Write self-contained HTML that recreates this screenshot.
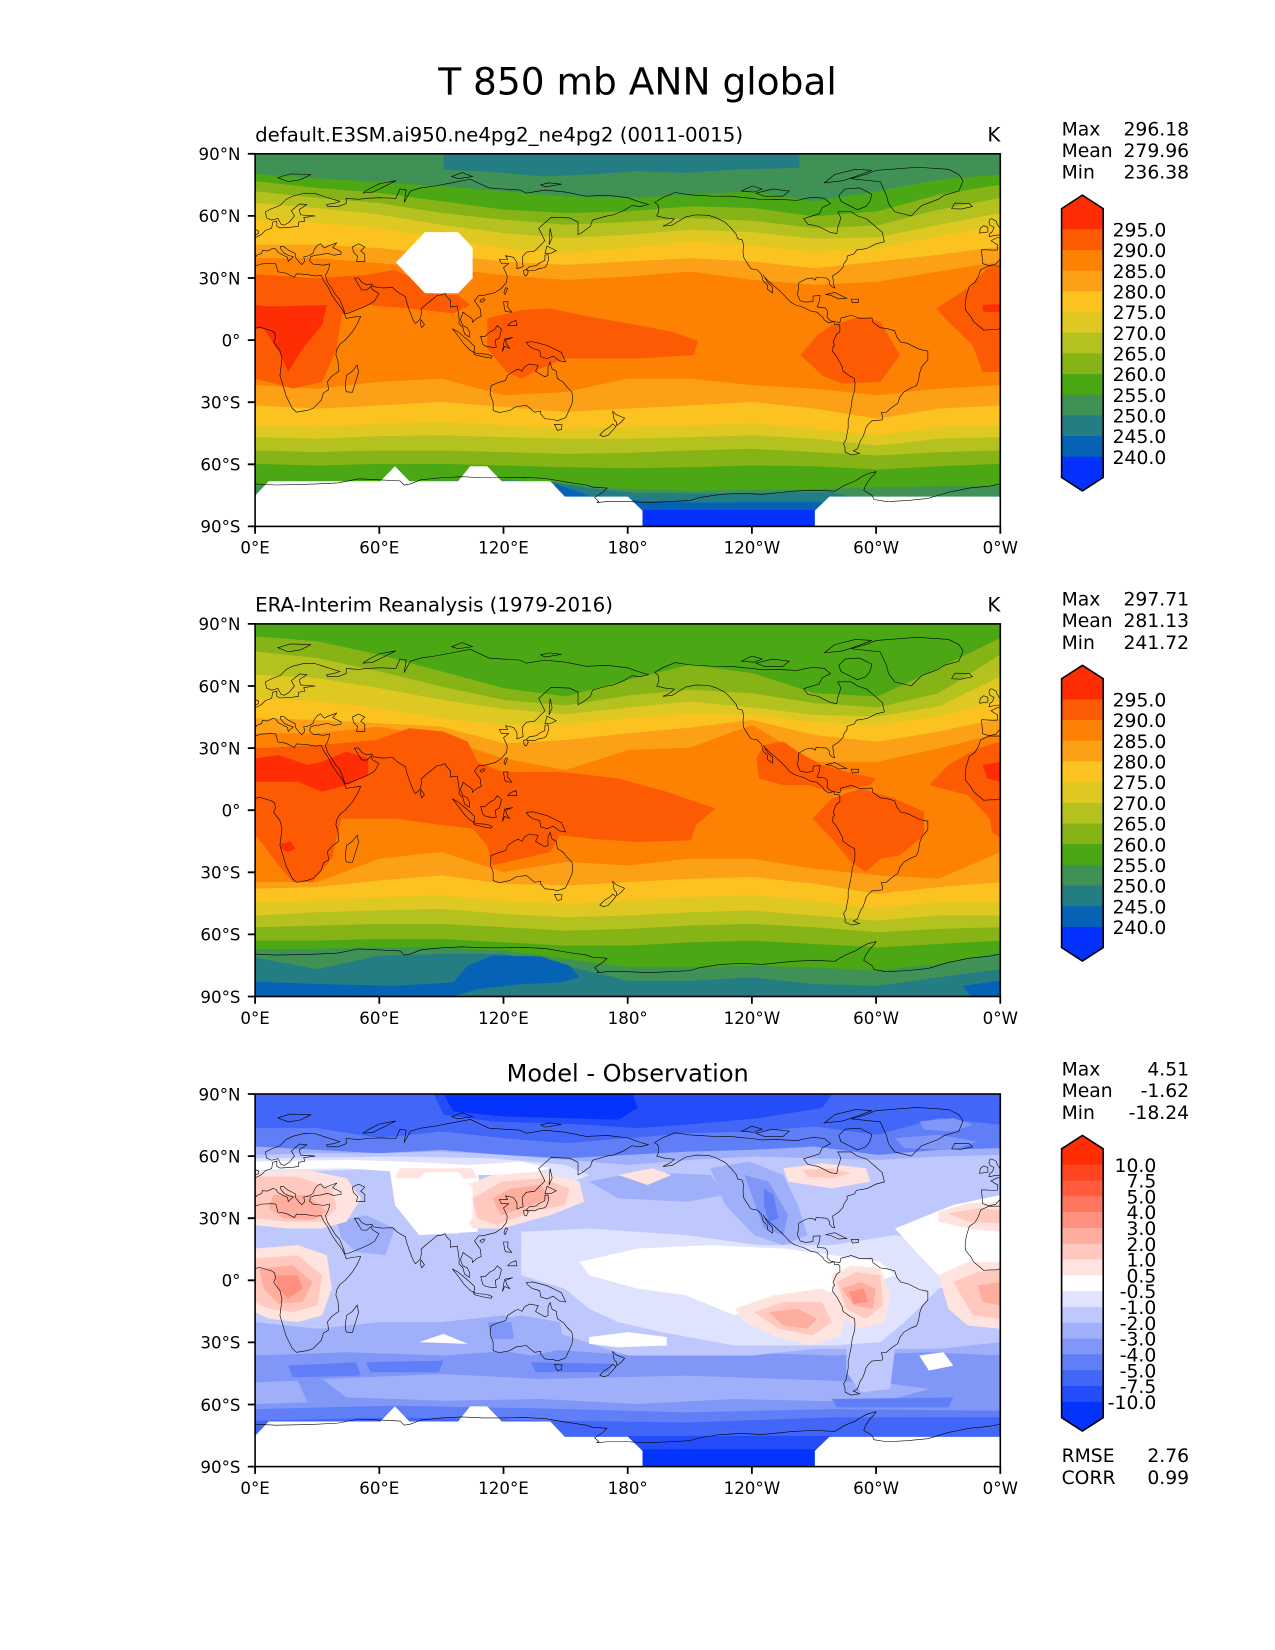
<!DOCTYPE html>
<html><head><meta charset="utf-8"><style>
html,body{margin:0;padding:0;background:#fff;}
svg{display:block;}
text{font-family:"DejaVu Sans","Liberation Sans",sans-serif;fill:#000;}
</style></head><body>
<svg width="1275" height="1650" viewBox="0 0 1275 1650" xmlns="http://www.w3.org/2000/svg">
<defs>
<path id="coast" fill="none" stroke="#000" stroke-width="0.6" vector-effect="non-scaling-stroke" d="
M0,5.6 L2,6.3 L8,4.5 L9.5,3.5 L9.8,1 L9,-1 L12,-5 L13,-9 L12,-17 L15,-27 L18,-33 L20,-34.8 L25,-34 L28,-33 L32,-29 L33,-25.5 L35.5,-24 L35,-20 L37,-17.5 L40.5,-15 L40,-10 L39,-7 L39.5,-4.5 L41,-2 L43.5,0 L47,4 L49.5,8 L51,11.5 L48,11.2 L44,10.5 L43.3,12.5 L42,15 L39,19 L37,22 L35,26 L33.5,28 L32.5,30 L32,31.2 L29,31 L25,31.7 L20,32 L19,30.3 L15,32.3 L11,33 L10,36.8 L8,37 L3,36.8 L0,35.8
M360,35.8 L354.5,35.8 L350.5,34 L349.5,31 L347.8,28 L345,26 L343.5,21 L343,16.5 L343.2,14.5 L346,11 L347,9 L350,6.5 L352,4.8 L355,5 L358,5 L360,5.6
M0,49.5 L1.5,50.2 L3,51 L5,53 L8,54 L8.5,57 L10.5,57.5 L10.5,55 L12,54.2 L18,54.6 L21,55 L21,57 L24,57.5 L23.5,59.2 L29,60 L22,60.5 L21.3,63 L25,65.5 L21.5,65.8 L17.5,62.5 L19,60 L16.5,57 L14,55.5 L12.5,56 L11,58.8 L8,58 L5.5,59 L5,62 L8,63.5 L12,65 L15,68 L18,69.5 L24,71 L29,70.8 L33,69.5 L41,67 L38,66 L34.5,65.5 L35,64.5 L40,64.5 L44,66 L44,68.5 L50,68 L54,68.5 L60,68.8 L68,68.5 L70,73 L73,72.5 L72,66.5 L75,72 L80,73.5 L87,74.5 L95,76 L104,77.7 L113,73.5 L120,73 L128,72.5 L131,71 L140,72.5 L150,71.5 L160,69.5 L170,70 L180,68.8 L185,67 L190,65.5 L186,64.5 L182,65 L178,62.5 L173,60.5 L170,60 L163,58 L162,55 L158,52 L156,51 L156,57 L152,59 L143,59.3 L137,54 L140,48 L135,43 L131,42.5 L129,40 L129.5,35.5 L126.5,34.5 L126.5,37.5 L124.8,40 L121,40.8 L122,39 L118,39 L119,37 L122.5,37 L120,35 L121.8,31 L121.5,28 L119,25 L116,23 L110,21.5 L108,21.5 L106,19 L108.8,15 L109.2,11.5 L107,10.5 L105,8.6 L104.8,10.4 L102,12.3 L100.5,13.5 L99.2,10 L100.3,7 L102.5,6 L103.5,4 L103.5,1.4 L101.2,3 L100.4,6 L98.5,8 L98.6,10 L97.7,16.5 L94.3,16 L94.5,19 L92.5,21 L91.8,22.5 L90,21.8 L88,21.6 L86.9,20.7 L84.8,19 L82.3,17 L80.2,15 L80.3,13 L79.9,10.3 L77.5,8 L76.3,9.8 L74.5,14.5 L73,19 L72.7,21 L70,22.5 L68.5,23.5 L66.5,25.4 L61.5,25.2 L57.3,25.8 L56.4,27.1 L54,26.7 L51.5,27.9 L50,30 L48,30 L50.1,26.5 L51.5,24.3 L54,24.2 L56.3,26.2 L56.5,24.5 L59.8,22.5 L57.8,19 L55.2,17.3 L52.2,15.9 L45,13 L43.3,12.7 L42.8,15 L40.8,19.8 L38.8,22 L37,25 L35,28 L34.5,29.5 L34,31.3 L35,33 L35.9,35.7 L36,36.8 L33,36.2 L30.5,36.5 L28,36.7 L26.3,38.3 L26.8,40.2 L29,41 L31.5,41.2 L35,42 L38,41 L41.5,41.5 L41.5,42.7 L37.5,44.7 L39.5,47 L35,45.3 L33.5,44.5 L32.5,45.4 L31.7,46.6 L30.2,45.8 L28.7,44 L28,42 L26.2,40.8 L23.5,40.2 L24,38 L22.5,36.5 L21.2,37.8 L19.5,40 L19.4,41.8 L16,43.5 L13.7,45.3 L12.3,45.3 L12.4,44 L14,42 L16,41 L18.5,40.2 L17,39 L16,38 L15.7,40 L14,40.8 L11,42.4 L10,44 L8.5,44.3 L6,43.1 L3.5,43.3 L3.2,41.9 L0.8,41 L0,39.5
M360,39.5 L359.5,38.6 L358.5,37.6 L357.8,36.7 L354.5,36 L351.5,37 L351,42.5 L351,43.7 L356,43.5 L358.5,43.5 L358.8,46 L355.5,48 L358.5,49.5 L360,49.5
M47,45 L50,46.5 L53,45 L51,43 L53,41.5 L53,38 L49,38 L49.5,40.5 L47.5,42.5 Z
M354.5,50 L358,50.7 L360,50.8 M0,50.8 L1.6,51.5 L1.7,52.7 L0,53.5 M360,53.5 L359.5,54.5 L358.5,56 L358,57.5 L356,58.6 L355,58.5 L354.5,57 L355,55.5 L357,54.5 L356.5,53.3 L355.8,52 L355,51.7 L354.5,50
M350,51.7 L354,52.2 L354,54.5 L352,55.3 L350.3,54 Z
M336.5,63.5 L338,66.2 L345,66 L346.5,64.5 L341,63.3 Z
M11,78.5 L17,80.3 L27,80 L22,77.5 L16,76.5 Z
M52,71 L55,73 L60,75.5 L68,77 L62,74 L57,71.5 Z
M95,79 L100,81 L105,79 L98,78 Z
M138,75 L142,76 L148,75.3 L140,74 Z
M130.8,34 L132.5,35.5 L136,36 L137,37 L140,38.5 L140,41 L141.5,41.3 L141.8,39 L140.8,36 L139.8,35 L137,34.5 L135,33.5 L132,33.8 Z
M129.7,33.7 L131,34 L132,33 L131,31 L130,31.5 Z
M140,41.8 L141,45.4 L144,44 L145.5,43.2 L143,42 Z
M142,46 L142.5,54 L143.5,49.5 Z
M120.2,23 L121,25.3 L122,25 L120.8,22 Z
M108.7,19.2 L110.5,20.1 L111,19.6 L110,18.4 L108.7,18.5 Z
M120,18.5 L122.2,18.5 L122,16 L124,13.5 L121,13.8 L120.5,15 Z
M122,7 L126.5,7 L126,9.5 L123.5,8.5 Z
M109,1.8 L110,-2 L111.5,-3 L114.5,-3.5 L116.5,-3.5 L116,0 L118,1 L119,5.2 L117,7 L115.5,5 L113.5,4 L111,1.7 Z
M95.3,5.5 L98,4 L104,-1 L106,-3 L105.8,-5.8 L104,-5 L101,-2 L98.5,1.5 Z
M105.5,-6 L108,-6.5 L112,-6.8 L114.5,-7.8 L114,-8.7 L110,-8 L106,-7 Z
M119.5,-5.5 L120.5,0.5 L124.5,1.3 L121,0 L121.5,-2 L123,-4 L120.5,-3 Z
M131,-1 L134,-0.8 L137,-1.5 L141,-2.6 L145,-4.5 L148,-6 L150,-10.5 L147,-10 L144,-7.7 L141,-9 L138,-8 L137.5,-5 L134,-4 L132,-2.5 Z
M79.8,8 L80.2,9.8 L81.8,7.5 L80.5,6 Z
M44,-25 L47,-25.2 L50,-15.5 L49.3,-12 L47,-15 L44.2,-17 L43.5,-22 Z
M114,-22 L113.5,-26 L115,-30 L115,-34 L118,-35 L123,-34 L126,-32.2 L131,-31.5 L135,-34.8 L138,-34.3 L138,-35.7 L140,-38 L144,-38.3 L146,-39 L150,-37.5 L153,-31 L153.5,-28 L153,-25 L150.5,-22.5 L149,-20.5 L146,-18.5 L145.5,-15 L143.5,-14 L142.5,-10.7 L141.5,-13 L141.5,-17 L140,-17.7 L137,-16 L135.5,-15 L136.8,-12.2 L132.5,-11.5 L130,-13 L129,-15 L127,-14 L125,-15 L122,-17 L121,-19.5 L117,-20.7 Z
M144.6,-40.7 L148.3,-40.9 L148,-43.2 L146,-43.6 Z
M172.7,-34.4 L174.5,-36 L178.5,-37.7 L177,-39.5 L174.7,-41.3 L174.5,-39.5 L173.5,-38.5 Z
M172.7,-40.5 L174.3,-41.7 L172.8,-43.5 L170.5,-46 L168.3,-46.6 L166.5,-45.8 L168.5,-43.8 L171.5,-41.8 Z
M193,66.5 L197,68.9 L203,71.3 L210,70.2 L220,69.6 L230,69.5 L235,68.9 L240,68.5 L245,67.8 L252,68 L262,67.5 L266,68.5 L270,69 L275,68.5 L278,66 L274,64 L272.5,61 L265,58.7 L267,56 L272,55 L278,52 L281,51.5 L281.5,54.5 L283,59 L281.5,62 L288,62 L291,60 L295.5,58.5 L299,55.5 L303,52 L304,47.5 L300,46.5 L296,44.5 L294,44 L290.5,43.5 L289.5,41.7 L286,40.6 L286,39 L284.5,37 L284,35.2 L282,33 L279,31 L279.5,27 L280,25.3 L278.8,25.7 L277.5,27 L277.3,28.8 L276,30 L271,30.3 L270.7,29 L269,30 L266,29.5 L262.5,27.5 L262.5,25 L262,22 L263.3,19 L266,18.3 L269.5,18.7 L269.6,21.3 L273,21.5 L272.5,18.5 L271.5,16 L275.5,15.5 L276.5,14 L276.3,11 L278,9.3 L280.5,8.8 L282.5,8.5 L283,10.7 L284.5,11 L288,12 L292,10.5 L298,10.7 L298.5,8.5 L302,6 L305.5,5.5 L309,4.5 L310,1.5 L312,-1 L315,-1.5 L318,-3 L321,-4.5 L325,-5.3 L325,-7.5 L325,-9.5 L322,-13 L321,-16 L320.5,-19.5 L319.5,-22 L317,-23 L313.5,-25 L311.5,-27.5 L310.5,-30.5 L307,-33 L305,-34.8 L302.5,-35 L303,-36.5 L303,-38.5 L298,-39 L296,-40.8 L295,-42.5 L294.5,-44.5 L293.5,-47 L292.5,-48.5 L291.5,-51 L291,-52.5 L289,-53.5 L292,-54.8 L288,-55.5 L285,-54 L285,-52 L284.3,-50 L285.5,-48 L286,-45 L286.5,-42.5 L286.5,-39 L287,-37 L288,-32 L288.5,-28 L289.7,-24 L289.8,-20.5 L289.5,-18.5 L287.5,-17.5 L284,-15 L283.7,-13 L281,-8 L279,-5.5 L279.2,-3 L280,-2.5 L279.3,-1 L280,1 L281,3 L282.5,4 L282.5,7 L281.7,7.7 L280,7.5 L279.5,9 L277.2,8.3 L275,9.7 L274.3,11 L272.5,12.5 L271.5,13.5 L268.5,14 L265,15.8 L261,17 L258.5,18.5 L254.5,22.8 L251.5,25.5 L248,28.5 L246,30.5 L245.5,31.5 L247.5,28 L250,25.5 L250,22.8 L247.5,24.5 L247.5,26.5 L245.5,28.5 L244.5,32 L242.5,34 L239.5,34.5 L237.5,37.5 L236,40 L235.7,43 L236,46 L235.3,48.4 L233,49 L232.5,51 L230,54 L227,57 L222.5,59.2 L219,60.3 L213,60.5 L208,59.5 L205,57.7 L201.5,55.5 L197,55 L201,57 L202.5,58.5 L198,59 L194,60 L195,62 L195,64 L194.5,65.5 Z
M317,60 L309,62 L306,66 L305,70 L302,76.5 L288,78 L295,80 L300,82 L320,83.5 L335,82.5 L340,80 L342,77 L340,72 L333,70 L330,68 L322,65 Z
M282,70 L285,73 L292,73.5 L298,70.5 L297,67 L295,64.5 L291,63 L287,65 L283,67 Z
M275,76 L280,80 L290,82.5 L298,82 L290,79 L284,77 Z
M242,71 L250,73 L258,72 L255,69.5 L246,69.5 Z
M235,72 L240,74.5 L245,73 L241,71.5 Z
M275.5,22 L280,23 L285.8,20.2 L282,19.9 L278,21.7 Z
M288,19.8 L291.5,19.8 L291.5,18.3 L288.5,18 Z
M0,-69.5 L10,-70 L20,-69.8 L30,-69.5 L40,-69 L50,-67 L60,-67.5 L70,-68 L72,-70 L75,-69.5 L80,-67.5 L90,-66.5 L100,-66 L110,-66.5 L120,-66.5 L130,-66.3 L140,-66.8 L150,-68.5 L160,-70 L163,-71 L170,-71.5 L168,-73.5 L164,-76 L166,-78 L165,-78.5 L170,-78 L180,-78 L190,-78.5 L200,-78 L210,-77.5 L215,-76 L225,-74.5 L235,-74 L245,-74.5 L255,-73.5 L260,-73 L270,-72.5 L280,-73 L285,-70 L290,-68 L293,-66 L296,-64.5 L300,-63.5 L299,-65 L297,-67 L295,-70 L294,-72.5 L298,-75 L299,-77 L305,-78 L315,-77.5 L325,-76.5 L330,-75 L335,-73.5 L340,-72.5 L345,-71.5 L350,-71 L355,-70.5 L360,-69.5"/>
<path id="mask" fill="#fff" d="M12,1040 L40,997 L270,997 L300,952 L330,997 L430,997 L455,952 L490,952 L520,997 L620,997 L650,1043 L780,1043 L810,1085 L810,1140 L0,1140 L0,1040 Z M1165,1140 L1165,1085 L1195,1043 L1560,1043 L1560,1140 Z M362,252 L430,252 L460,298 L460,390 L430,435 L362,435 L302,343 Z"/>
</defs>

<rect x="0" y="0" width="1275" height="1650" fill="#fff"/>
<text x="637.5" y="94.5" font-size="37.5" text-anchor="middle">T 850 mb ANN global</text>

<!-- ================= PANEL 1 ================= -->
<svg x="255.1" y="153.8" width="745.2" height="372.6" viewBox="12 18 1535 1114" preserveAspectRatio="none">
<rect x="0" y="0" width="1600" height="1200" fill="#3f9156"/>
<path fill="#237d83" d="M400,18 L1133,18 L1133,60 L1000,65 L900,75 L800,70 L700,80 L600,85 L500,72 L400,65 Z"/>
<path fill="#4ba713" d="M12,78 L140,92 L268,102 L396,115 L524,130 L652,145 L780,150 L908,140 L1036,130 L1164,160 L1294,130 L1420,95 L1547,80 L1547,1012 L1420,1012 L1294,1015 L1164,1020 L1036,1022 L908,1025 L780,1020 L652,1005 L524,990 L396,995 L268,1000 L140,1005 L12,1010 Z"/>
<path fill="#86b316" d="M12,100 L140,120 L268,135 L396,160 L524,185 L652,195 L780,190 L908,175 L1036,180 L1164,205 L1294,190 L1420,140 L1547,110 L1547,945 L1420,952 L1294,962 L1164,952 L1036,950 L908,955 L780,958 L652,955 L524,950 L396,945 L268,945 L140,950 L12,945 Z"/>
<path fill="#b4c11e" d="M12,130 L140,150 L268,165 L396,195 L524,215 L652,230 L780,222 L908,210 L1036,218 L1164,240 L1294,232 L1420,185 L1547,150 L1547,905 L1420,910 L1294,920 L1164,910 L1036,900 L908,905 L780,912 L652,915 L524,910 L396,905 L268,905 L140,910 L12,905 Z"/>
<path fill="#e0c823" d="M12,165 L140,180 L268,200 L396,230 L524,255 L652,270 L780,260 L908,245 L1036,252 L1164,272 L1294,268 L1420,230 L1547,195 L1547,865 L1420,870 L1294,890 L1164,870 L1036,860 L908,865 L780,870 L652,870 L524,865 L396,860 L268,862 L140,870 L12,865 Z"/>
<path fill="#fcc320" d="M12,215 L140,225 L268,240 L396,270 L524,300 L652,315 L780,300 L908,280 L1036,292 L1164,312 L1294,300 L1420,265 L1547,230 L1547,830 L1420,835 L1294,860 L1164,840 L1036,825 L908,830 L780,835 L652,840 L524,830 L396,820 L268,825 L140,835 L12,830 Z"/>
<path fill="#fca117" d="M12,290 L140,290 L268,300 L396,320 L524,340 L652,350 L780,340 L908,330 L1036,340 L1164,360 L1294,340 L1420,320 L1547,295 L1547,770 L1420,780 L1294,810 L1164,780 L1036,760 L908,770 L780,780 L652,790 L524,775 L396,760 L268,770 L140,780 L12,770 Z"/>
<path fill="#fd8204" d="M12,330 L140,330 L268,345 L396,360 L524,380 L652,395 L780,385 L908,370 L1036,395 L1164,410 L1294,400 L1420,370 L1547,340 L1547,710 L1420,720 L1294,740 L1164,720 L1036,710 L908,690 L780,690 L652,730 L524,740 L396,690 L268,700 L140,720 L12,710 Z"/>
<path fill="#fd5b03" d="M12,378 L140,390 L240,380 L300,365 L340,392 L380,437 L430,440 L455,470 L420,495 L330,480 L240,470 L190,500 L180,600 L150,700 L90,720 L40,700 L12,690 Z M490,510 L560,485 L620,480 L700,505 L800,530 L870,550 L925,578 L915,620 L800,630 L650,630 L600,660 L560,690 L530,670 L490,600 Z M1135,620 L1170,560 L1200,530 L1260,505 L1300,520 L1340,620 L1300,700 L1220,705 L1180,680 Z M1415,480 L1480,420 L1520,360 L1547,355 L1547,670 L1510,670 L1490,590 L1440,520 Z"/>
<path fill="#fe2d04" d="M12,470 L40,475 L160,470 L150,530 L110,600 L80,670 L65,620 L30,540 L12,540 Z M1510,470 L1547,468 L1547,492 L1512,490 Z"/>
<path fill="#237d83" d="M620,997 L700,1018 L800,1032 L1000,1034 L1100,1030 L1200,1030 L1240,1043 L1240,1140 L620,1140 Z"/>
<path fill="#0562b5" d="M630,1005 L700,1040 L800,1055 L900,1060 L1000,1060 L1100,1058 L1180,1060 L1180,1140 L630,1140 Z"/>
<path fill="#0531fe" d="M780,1083 L1200,1083 L1200,1140 L780,1140 Z"/>
<use href="#mask"/>
<g transform="matrix(4.2639,0,0,-6.1889,12,575)"><use href="#coast"/></g>
</svg>

<!-- ================= PANEL 2 ================= -->
<svg x="255.1" y="623.9" width="745.2" height="372.6" viewBox="12 18 1535 1114" preserveAspectRatio="none">
<rect x="0" y="0" width="1600" height="1200" fill="#4ba713"/>
<path fill="#86b316" d="M12,55 L140,70 L268,110 L396,160 L524,210 L652,235 L780,185 L908,140 L1036,165 L1164,225 L1294,235 L1420,150 L1547,60 L1547,965 L1420,975 L1294,985 L1164,975 L1036,965 L908,970 L780,980 L652,980 L524,970 L396,960 L268,960 L140,965 L12,965 Z"/>
<path fill="#b4c11e" d="M12,100 L140,120 L268,160 L396,205 L524,245 L652,262 L780,232 L908,215 L1036,225 L1164,255 L1294,268 L1420,225 L1547,110 L1547,925 L1420,930 L1294,940 L1164,925 L1036,915 L908,920 L780,930 L652,935 L524,925 L396,915 L268,915 L140,920 L12,925 Z"/>
<path fill="#e0c823" d="M12,170 L140,180 L268,210 L396,245 L524,272 L652,288 L780,268 L908,250 L1036,268 L1164,290 L1294,295 L1420,265 L1547,175 L1547,890 L1420,890 L1294,905 L1164,890 L1036,875 L908,880 L780,890 L652,895 L524,885 L396,870 L268,875 L140,880 L12,890 Z"/>
<path fill="#fcc320" d="M12,240 L140,250 L268,270 L396,300 L524,320 L652,318 L780,300 L908,288 L1036,290 L1164,312 L1294,320 L1420,295 L1547,245 L1547,850 L1420,850 L1294,870 L1164,845 L1036,830 L908,835 L780,845 L652,855 L524,845 L396,830 L268,835 L140,845 L12,850 Z"/>
<path fill="#fca117" d="M12,300 L140,305 L268,315 L396,325 L524,375 L652,365 L780,345 L908,328 L1036,305 L1164,350 L1294,370 L1420,340 L1547,300 L1547,790 L1420,805 L1294,825 L1164,795 L1036,775 L908,780 L780,790 L652,800 L524,795 L396,770 L268,785 L140,805 L12,810 Z"/>
<path fill="#fd8204" d="M12,345 L140,345 L268,325 L396,360 L524,420 L652,455 L780,395 L908,388 L1036,320 L1164,430 L1294,430 L1420,390 L1547,345 L1547,700 L1420,780 L1294,770 L1164,750 L1036,720 L908,720 L780,740 L652,730 L524,760 L396,700 L268,720 L140,790 L12,790 Z"/>
<path fill="#fd5b03" d="M12,390 L150,380 L260,365 L330,330 L400,340 L450,370 L470,430 L520,460 L640,460 L760,480 L860,520 L960,570 L920,620 L910,665 L800,670 L700,660 L640,650 L620,700 L560,720 L500,740 L490,680 L460,630 L400,620 L300,600 L190,600 L170,720 L130,790 L90,790 L60,740 L30,680 L12,650 Z M1045,420 L1060,380 L1100,370 L1130,400 L1180,440 L1230,460 L1290,480 L1280,500 L1200,520 L1150,500 L1100,500 L1050,480 Z M1160,600 L1200,540 L1260,510 L1330,540 L1390,580 L1390,650 L1340,710 L1300,720 L1270,760 L1240,730 L1200,660 Z M1400,500 L1440,440 L1500,390 L1547,370 L1547,660 L1530,640 L1525,600 L1480,530 Z"/>
<path fill="#fe2d04" d="M12,420 L60,410 L120,440 L150,430 L200,400 L245,420 L245,470 L200,500 L150,520 L100,490 L40,490 L12,490 Z M65,675 L85,668 L95,690 L80,700 L65,690 Z M1510,440 L1547,430 L1547,490 L1520,480 Z"/>
<path fill="#3f9156" d="M12,990 L140,990 L268,985 L396,985 L524,995 L652,1020 L780,1045 L908,1045 L1036,1040 L1164,1045 L1294,1055 L1420,1035 L1547,1000 L1547,1140 L12,1140 Z"/>
<path fill="#237d83" d="M12,1015 L140,1050 L268,1010 L396,1005 L524,1005 L652,1040 L780,1085 L908,1085 L1036,1075 L1164,1095 L1294,1100 L1420,1075 L1547,1050 L1547,1140 L12,1140 Z"/>
<path fill="#0562b5" d="M12,1088 L150,1095 L300,1100 L420,1090 L450,1040 L500,1010 L600,1012 L660,1040 L680,1075 L640,1090 L560,1095 L470,1110 L400,1140 L12,1140 Z M1470,1100 L1547,1085 L1547,1140 L1490,1140 Z"/>
<g transform="matrix(4.2639,0,0,-6.1889,12,575)"><use href="#coast"/></g>
</svg>

<!-- ================= PANEL 3 ================= -->
<svg x="255.1" y="1094" width="745.2" height="372.6" viewBox="12 18 1535 1114" preserveAspectRatio="none">
<rect x="0" y="0" width="1600" height="1200" fill="#9faffa"/>
<path fill="#8097f8" d="M12,800 L200,790 L400,800 L600,780 L800,800 L1000,790 L1200,800 L1400,790 L1547,800 L1547,1140 L12,1140 Z"/>
<path fill="#9faffa" d="M150,870 L400,855 L600,870 L900,860 L1100,870 L1300,880 L1400,900 L1300,940 L1000,930 L800,945 L600,930 L400,935 L200,925 Z M12,880 L100,875 L120,940 L12,945 Z"/>
<path fill="#607ff7" d="M12,960 L300,950 L600,958 L900,970 L1200,960 L1547,965 L1547,1140 L12,1140 Z M80,830 L220,820 L230,860 L90,865 Z M240,820 L400,815 L390,850 L250,850 Z M580,820 L750,825 L740,850 L590,850 Z M1200,930 L1450,925 L1440,955 L1210,955 Z M960,740 L985,770 L960,800 L940,770 Z"/>
<path fill="#4266f7" d="M12,995 L300,985 L650,995 L900,1000 L1200,985 L1547,985 L1547,1140 L12,1140 Z"/>
<path fill="#244cf8" d="M780,1040 L1200,1040 L1200,1140 L780,1140 Z"/>
<path fill="#0533fe" d="M800,1080 L1180,1080 L1180,1140 L800,1140 Z"/>
<path fill="#607ff7" d="M12,18 L1547,18 L1547,180 L1420,185 L1294,200 L1164,175 L1036,185 L908,190 L780,200 L652,210 L524,200 L396,185 L268,195 L140,185 L12,175 Z"/>
<path fill="#4266f7" d="M12,18 L1547,18 L1547,110 L1420,90 L1294,140 L1164,115 L1036,130 L908,135 L780,150 L652,165 L524,150 L396,130 L268,150 L140,120 L12,120 Z"/>
<path fill="#8097f8" d="M1380,100 L1450,90 L1490,110 L1450,130 L1390,125 Z M1330,150 L1420,140 L1500,160 L1450,185 L1350,180 Z"/>
<path fill="#244cf8" d="M380,18 L1200,18 L1180,60 L1050,90 L900,110 L800,120 L700,110 L500,100 L400,80 Z"/>
<path fill="#0533fe" d="M400,18 L790,18 L800,60 L760,95 L650,90 L520,85 L420,70 Z"/>
<path fill="#bfc8fc" d="M12,200 L140,195 L268,195 L396,190 L524,200 L652,215 L780,230 L908,215 L1036,205 L1164,210 L1294,215 L1420,205 L1547,200 L1547,760 L1420,780 L1294,780 L1164,780 L1036,800 L908,800 L780,800 L652,740 L524,680 L396,700 L268,700 L140,720 L12,700 Z M1230,770 L1330,780 L1320,900 L1260,910 L1230,850 Z"/>
<path fill="#9faffa" d="M950,240 L1030,220 L1100,260 L1130,350 L1150,440 L1100,470 L1040,440 L980,350 Z M700,280 L800,250 L950,260 L980,320 L900,340 L760,330 Z M180,400 L240,380 L300,420 L280,500 L220,490 L190,450 Z M480,700 L560,680 L640,700 L650,780 L580,800 L500,780 Z"/>
<path fill="#8097f8" d="M1020,260 L1070,280 L1110,380 L1100,440 L1060,420 L1040,340 Z M490,700 L540,700 L545,750 L500,750 Z"/>
<path fill="#607ff7" d="M1060,300 L1080,320 L1090,390 L1070,400 L1060,350 Z"/>
<path fill="#dfe3fe" d="M560,430 L700,420 L900,440 L1050,470 L1200,470 L1330,440 L1400,460 L1547,450 L1547,560 L1420,600 L1350,700 L1300,760 L1200,770 L1000,770 L850,730 L760,700 L700,660 L650,600 L560,560 Z M12,210 L300,205 L500,210 L650,230 L700,260 L650,290 L500,250 L300,240 L12,255 Z"/>
<path fill="#fff" d="M680,520 L800,480 L950,470 L1100,480 L1200,500 L1300,520 L1330,560 L1250,600 L1150,620 L1050,640 L1000,680 L900,620 L800,600 L700,560 Z M12,220 L200,215 L320,220 L450,230 L560,220 L620,240 L560,260 L450,260 L300,250 L200,240 L12,245 Z M1330,420 L1450,350 L1547,320 L1547,560 L1480,600 L1420,560 L1380,500 Z M700,745 L780,730 L860,745 L860,770 L760,775 L700,765 Z M350,760 L400,735 L450,765 Z M290,250 L470,250 L480,330 L470,430 L350,440 L300,350 Z M1380,800 L1430,790 L1450,830 L1400,845 Z"/>
<path fill="#ffe3df" d="M12,250 L120,245 L200,270 L230,330 L200,400 L150,420 L80,420 L12,410 Z M430,300 L500,260 L600,250 L680,280 L690,340 L620,380 L520,420 L460,420 L440,370 Z M310,240 L460,240 L470,270 L300,270 Z M1100,240 L1180,225 L1270,240 L1280,280 L1200,300 L1110,280 Z M1420,370 L1480,345 L1547,340 L1547,430 L1480,420 L1420,400 Z M760,260 L830,240 L870,260 L820,290 Z M12,480 L100,470 L160,500 L170,600 L150,680 L100,700 L40,690 L12,670 Z M1000,660 L1080,620 L1180,600 L1230,640 L1220,740 L1160,770 L1080,740 L1020,700 Z M1200,560 L1240,530 L1300,540 L1320,620 L1310,700 L1260,720 L1210,680 Z M1420,560 L1480,520 L1547,520 L1547,720 L1480,710 L1440,660 Z"/>
<path fill="#ffc9c0" d="M12,265 L100,265 L170,300 L180,360 L150,400 L80,400 L12,390 Z M460,330 L520,280 L600,270 L660,300 L650,350 L580,370 L510,410 L470,390 Z M1140,245 L1200,240 L1240,255 L1200,270 L1150,265 Z M1440,375 L1500,360 L1547,365 L1547,405 L1480,400 Z M12,510 L100,500 L150,560 L140,650 L90,670 L40,660 L12,640 Z M1040,670 L1100,640 L1180,640 L1200,700 L1160,740 L1090,720 Z M1210,580 L1250,550 L1300,560 L1305,650 L1270,690 L1230,660 Z M1450,580 L1500,550 L1547,545 L1547,690 L1490,680 Z"/>
<path fill="#ffad9f" d="M50,320 L120,320 L160,370 L130,395 L70,390 L40,360 Z M500,330 L540,300 L600,290 L620,330 L560,360 L520,380 Z M20,540 L90,530 L130,580 L110,640 L60,645 L30,600 Z M1070,670 L1130,660 L1170,690 L1150,720 L1100,710 Z M1220,600 L1260,580 L1290,600 L1285,660 L1245,650 Z M1500,590 L1547,580 L1547,650 L1510,640 Z"/>
<path fill="#ff9080" d="M50,560 L100,560 L110,600 L80,630 L60,600 Z M1235,610 L1265,600 L1275,640 L1245,645 Z"/>
<use href="#mask"/>
<g transform="matrix(4.2639,0,0,-6.1889,12,575)"><use href="#coast"/></g>
</svg>

<!-- frames -->
<g fill="none" stroke="#000" stroke-width="1.6">
<rect x="255.1" y="153.8" width="745.2" height="372.6"/>
<rect x="255.1" y="623.9" width="745.2" height="372.6"/>
<rect x="255.1" y="1094" width="745.2" height="372.6"/>
</g>

<!-- ticks -->
<g stroke="#000" stroke-width="1.8">
<path d="M255.1,526.4v7.3 M379.3,526.4v7.3 M503.5,526.4v7.3 M627.7,526.4v7.3 M751.9,526.4v7.3 M876.1,526.4v7.3 M1000.3,526.4v7.3
M255.1,153.8h-7.3 M255.1,215.9h-7.3 M255.1,278h-7.3 M255.1,340.1h-7.3 M255.1,402.2h-7.3 M255.1,464.3h-7.3 M255.1,526.4h-7.3"/>
<path d="M255.1,996.5v7.3 M379.3,996.5v7.3 M503.5,996.5v7.3 M627.7,996.5v7.3 M751.9,996.5v7.3 M876.1,996.5v7.3 M1000.3,996.5v7.3
M255.1,623.9h-7.3 M255.1,686h-7.3 M255.1,748.1h-7.3 M255.1,810.2h-7.3 M255.1,872.3h-7.3 M255.1,934.4h-7.3 M255.1,996.5h-7.3"/>
<path d="M255.1,1466.6v7.3 M379.3,1466.6v7.3 M503.5,1466.6v7.3 M627.7,1466.6v7.3 M751.9,1466.6v7.3 M876.1,1466.6v7.3 M1000.3,1466.6v7.3
M255.1,1094h-7.3 M255.1,1156.1h-7.3 M255.1,1218.2h-7.3 M255.1,1280.3h-7.3 M255.1,1342.4h-7.3 M255.1,1404.5h-7.3 M255.1,1466.6h-7.3"/>
</g>

<!-- tick labels -->
<g font-size="16.67" text-anchor="middle">
<text x="255.1" y="553.7">0°E</text><text x="379.3" y="553.7">60°E</text><text x="503.5" y="553.7">120°E</text><text x="627.7" y="553.7">180°</text><text x="751.9" y="553.7">120°W</text><text x="876.1" y="553.7">60°W</text><text x="1000.3" y="553.7">0°W</text>
<text x="255.1" y="1023.8">0°E</text><text x="379.3" y="1023.8">60°E</text><text x="503.5" y="1023.8">120°E</text><text x="627.7" y="1023.8">180°</text><text x="751.9" y="1023.8">120°W</text><text x="876.1" y="1023.8">60°W</text><text x="1000.3" y="1023.8">0°W</text>
<text x="255.1" y="1493.9">0°E</text><text x="379.3" y="1493.9">60°E</text><text x="503.5" y="1493.9">120°E</text><text x="627.7" y="1493.9">180°</text><text x="751.9" y="1493.9">120°W</text><text x="876.1" y="1493.9">60°W</text><text x="1000.3" y="1493.9">0°W</text>
</g>
<g font-size="16.67" text-anchor="end">
<text x="240.5" y="160.1">90°N</text><text x="240.5" y="222.2">60°N</text><text x="240.5" y="284.3">30°N</text><text x="240.5" y="346.4">0°</text><text x="240.5" y="408.5">30°S</text><text x="240.5" y="470.6">60°S</text><text x="240.5" y="532.7">90°S</text>
<text x="240.5" y="630.2">90°N</text><text x="240.5" y="692.3">60°N</text><text x="240.5" y="754.4">30°N</text><text x="240.5" y="816.5">0°</text><text x="240.5" y="878.6">30°S</text><text x="240.5" y="940.7">60°S</text><text x="240.5" y="1002.8">90°S</text>
<text x="240.5" y="1100.3">90°N</text><text x="240.5" y="1162.4">60°N</text><text x="240.5" y="1224.5">30°N</text><text x="240.5" y="1286.6">0°</text><text x="240.5" y="1348.7">30°S</text><text x="240.5" y="1410.8">60°S</text><text x="240.5" y="1472.9">90°S</text>
</g>

<!-- titles -->
<text x="255.1" y="141.3" font-size="19.8">default.E3SM.ai950.ne4pg2_ne4pg2 (0011-0015)</text>
<text x="1000.3" y="141.3" font-size="19.8" text-anchor="end">K</text>
<text x="255.1" y="611.4" font-size="19.8">ERA-Interim Reanalysis (1979-2016)</text>
<text x="1000.3" y="611.4" font-size="19.8" text-anchor="end">K</text>
<text x="627.7" y="1081.5" font-size="24" text-anchor="middle">Model - Observation</text>

<!-- stats -->
<g font-size="18.75">
<text x="1061.6" y="135.3">Max</text><text x="1061.6" y="157">Mean</text><text x="1061.6" y="178.7">Min</text>
<text x="1189.1" y="135.3" text-anchor="end">296.18</text><text x="1189.1" y="157" text-anchor="end">279.96</text><text x="1189.1" y="178.7" text-anchor="end">236.38</text>
<text x="1061.6" y="605.4">Max</text><text x="1061.6" y="627.1">Mean</text><text x="1061.6" y="648.8">Min</text>
<text x="1189.1" y="605.4" text-anchor="end">297.71</text><text x="1189.1" y="627.1" text-anchor="end">281.13</text><text x="1189.1" y="648.8" text-anchor="end">241.72</text>
<text x="1061.6" y="1075.5">Max</text><text x="1061.6" y="1097.2">Mean</text><text x="1061.6" y="1118.9">Min</text>
<text x="1189.1" y="1075.5" text-anchor="end">4.51</text><text x="1189.1" y="1097.2" text-anchor="end">-1.62</text><text x="1189.1" y="1118.9" text-anchor="end">-18.24</text>
<text x="1061.6" y="1462.1">RMSE</text><text x="1061.6" y="1483.8">CORR</text>
<text x="1189.1" y="1462.1" text-anchor="end">2.76</text><text x="1189.1" y="1483.8" text-anchor="end">0.99</text>
</g>

<!-- colorbar 1 -->
<g transform="translate(1061.6,195.2)">
<polygon points="0,13.44 20.8,0 41.6,13.44 41.6,34.6 0,34.6" fill="#fe2d04"/>
<rect x="0" y="34.12" width="41.6" height="21.2" fill="#fd5b03"/>
<rect x="0" y="54.8" width="41.6" height="21.2" fill="#fd8204"/>
<rect x="0" y="75.48" width="41.6" height="21.2" fill="#fca117"/>
<rect x="0" y="96.16" width="41.6" height="21.2" fill="#fcc320"/>
<rect x="0" y="116.84" width="41.6" height="21.2" fill="#e0c823"/>
<rect x="0" y="137.52" width="41.6" height="21.2" fill="#b4c11e"/>
<rect x="0" y="158.2" width="41.6" height="21.2" fill="#86b316"/>
<rect x="0" y="178.88" width="41.6" height="21.2" fill="#4ba713"/>
<rect x="0" y="199.56" width="41.6" height="21.2" fill="#3f9156"/>
<rect x="0" y="220.24" width="41.6" height="21.2" fill="#237d83"/>
<rect x="0" y="240.92" width="41.6" height="21.2" fill="#0562b5"/>
<polygon points="0,261.6 41.6,261.6 41.6,282.26 20.8,295.7 0,282.26" fill="#0531fe"/>
<polygon points="0,13.44 20.8,0 41.6,13.44 41.6,282.26 20.8,295.7 0,282.26" fill="none" stroke="#000" stroke-width="1.6"/>
</g>
<g font-size="18.75" text-anchor="end">
<text x="1166.3" y="236.4">295.0</text><text x="1166.3" y="257.1">290.0</text><text x="1166.3" y="277.8">285.0</text><text x="1166.3" y="298.5">280.0</text><text x="1166.3" y="319.1">275.0</text><text x="1166.3" y="339.8">270.0</text><text x="1166.3" y="360.5">265.0</text><text x="1166.3" y="381.2">260.0</text><text x="1166.3" y="401.9">255.0</text><text x="1166.3" y="422.5">250.0</text><text x="1166.3" y="443.2">245.0</text><text x="1166.3" y="463.9">240.0</text>
</g>

<!-- colorbar 2 -->
<g transform="translate(1061.6,665.3)">
<polygon points="0,13.44 20.8,0 41.6,13.44 41.6,34.6 0,34.6" fill="#fe2d04"/>
<rect x="0" y="34.12" width="41.6" height="21.2" fill="#fd5b03"/>
<rect x="0" y="54.8" width="41.6" height="21.2" fill="#fd8204"/>
<rect x="0" y="75.48" width="41.6" height="21.2" fill="#fca117"/>
<rect x="0" y="96.16" width="41.6" height="21.2" fill="#fcc320"/>
<rect x="0" y="116.84" width="41.6" height="21.2" fill="#e0c823"/>
<rect x="0" y="137.52" width="41.6" height="21.2" fill="#b4c11e"/>
<rect x="0" y="158.2" width="41.6" height="21.2" fill="#86b316"/>
<rect x="0" y="178.88" width="41.6" height="21.2" fill="#4ba713"/>
<rect x="0" y="199.56" width="41.6" height="21.2" fill="#3f9156"/>
<rect x="0" y="220.24" width="41.6" height="21.2" fill="#237d83"/>
<rect x="0" y="240.92" width="41.6" height="21.2" fill="#0562b5"/>
<polygon points="0,261.6 41.6,261.6 41.6,282.26 20.8,295.7 0,282.26" fill="#0531fe"/>
<polygon points="0,13.44 20.8,0 41.6,13.44 41.6,282.26 20.8,295.7 0,282.26" fill="none" stroke="#000" stroke-width="1.6"/>
</g>
<g font-size="18.75" text-anchor="end">
<text x="1166.3" y="706.5">295.0</text><text x="1166.3" y="727.2">290.0</text><text x="1166.3" y="747.9">285.0</text><text x="1166.3" y="768.6">280.0</text><text x="1166.3" y="789.2">275.0</text><text x="1166.3" y="809.9">270.0</text><text x="1166.3" y="830.6">265.0</text><text x="1166.3" y="851.3">260.0</text><text x="1166.3" y="872">255.0</text><text x="1166.3" y="892.6">250.0</text><text x="1166.3" y="913.3">245.0</text><text x="1166.3" y="934">240.0</text>
</g>

<!-- colorbar 3 -->
<g transform="translate(1061.6,1135.4)">
<polygon points="0,13.44 20.8,0 41.6,13.44 41.6,29.6 0,29.6" fill="#fe2d04"/>
<rect x="0" y="29.25" width="41.6" height="16.3" fill="#ff4520"/>
<rect x="0" y="45.06" width="41.6" height="16.3" fill="#ff5b3c"/>
<rect x="0" y="60.88" width="41.6" height="16.3" fill="#ff765f"/>
<rect x="0" y="76.69" width="41.6" height="16.3" fill="#ff9080"/>
<rect x="0" y="92.5" width="41.6" height="16.3" fill="#ffad9f"/>
<rect x="0" y="108.31" width="41.6" height="16.3" fill="#ffc9c0"/>
<rect x="0" y="124.12" width="41.6" height="16.3" fill="#ffe3df"/>
<rect x="0" y="139.94" width="41.6" height="16.3" fill="#ffffff"/>
<rect x="0" y="155.75" width="41.6" height="16.3" fill="#dfe3fe"/>
<rect x="0" y="171.56" width="41.6" height="16.3" fill="#bfc8fc"/>
<rect x="0" y="187.37" width="41.6" height="16.3" fill="#9faffa"/>
<rect x="0" y="203.18" width="41.6" height="16.3" fill="#8097f8"/>
<rect x="0" y="219" width="41.6" height="16.3" fill="#607ff7"/>
<rect x="0" y="234.81" width="41.6" height="16.3" fill="#4266f7"/>
<rect x="0" y="250.62" width="41.6" height="16.3" fill="#244cf8"/>
<polygon points="0,266.43 41.6,266.43 41.6,282.26 20.8,295.7 0,282.26" fill="#0533fe"/>
<polygon points="0,13.44 20.8,0 41.6,13.44 41.6,282.26 20.8,295.7 0,282.26" fill="none" stroke="#000" stroke-width="1.6"/>
</g>
<g font-size="18.75" text-anchor="end">
<text x="1156.3" y="1171.8">10.0</text><text x="1156.3" y="1187.6">7.5</text><text x="1156.3" y="1203.4">5.0</text><text x="1156.3" y="1219.2">4.0</text><text x="1156.3" y="1235">3.0</text><text x="1156.3" y="1250.8">2.0</text><text x="1156.3" y="1266.6">1.0</text><text x="1156.3" y="1282.4">0.5</text><text x="1156.3" y="1298.2">-0.5</text><text x="1156.3" y="1314.1">-1.0</text><text x="1156.3" y="1329.9">-2.0</text><text x="1156.3" y="1345.7">-3.0</text><text x="1156.3" y="1361.5">-4.0</text><text x="1156.3" y="1377.3">-5.0</text><text x="1156.3" y="1393.1">-7.5</text><text x="1156.3" y="1408.9">-10.0</text>
</g>
</svg>
</body></html>
